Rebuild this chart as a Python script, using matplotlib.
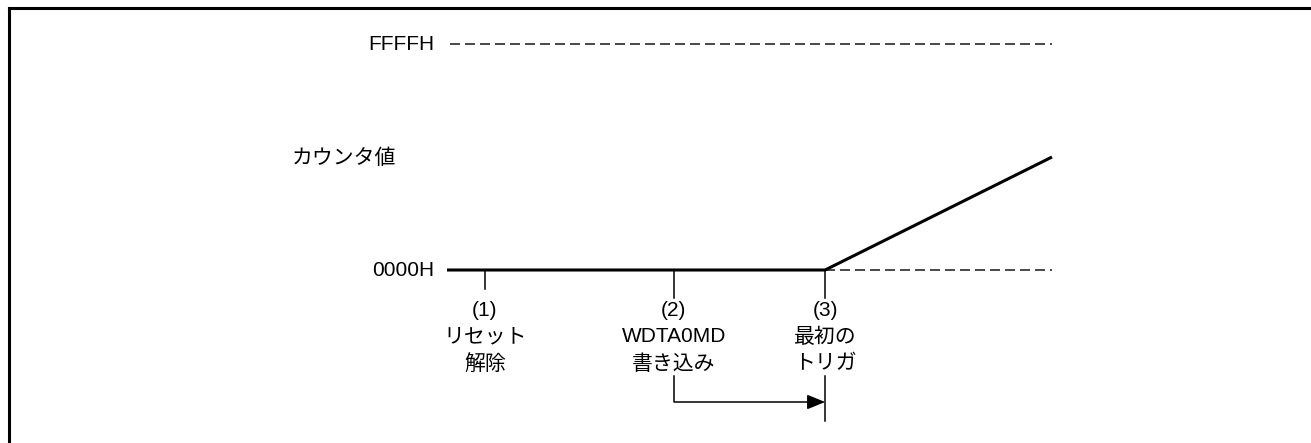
import matplotlib
matplotlib.use("Agg")
import matplotlib.pyplot as plt
from matplotlib.lines import Line2D

plt.rcParams['font.family'] = ['Liberation Sans', 'Noto Sans CJK JP', 'DejaVu Sans']
plt.rcParams['lines.scale_dashes'] = False

# ---- data (time in arbitrary units, counter value) ----
t_start, t_end = 0.0, 16.0
event_times = [1.0, 6.0, 10.0]               # (1) reset release, (2) WDTA0MD write, (3) first trigger
event_numbers = ["(1)", "(2)", "(3)"]
event_labels = [["リセット", "解除"], ["WDTA0MD", "書き込み"], ["最初の", "トリガ"]]
counter_min, counter_max = 0x0000, 0xFFFF
counter_end = 0x7FFF
level_labels = ["0000H", "FFFFH"]
y_label = "カウンタ値"
count_t = [t_start, event_times[2], t_end]
count_v = [counter_min, counter_min, counter_end]

W, H = 1311, 443
fig = plt.figure(figsize=(W / 100, H / 100), dpi=100)
# axes: x 0..16 -> px 447..1052 ; y 0..65535 -> px 270..44
x0, x1 = 447, 1052
y0, y1 = 270, 44
ax = fig.add_axes([x0 / W, (H - y0) / H, (x1 - x0) / W, (y0 - y1) / H])
ax.set_xlim(t_start, t_end)
ax.set_ylim(counter_min, counter_max)
ax.axis('off')

px_x = (t_end - t_start) / (x1 - x0)          # data units per pixel (x)
px_y = (counter_max - counter_min) / (y0 - y1)  # data units per pixel (y)

fs = 15
dash_col = '#3a3a3a'

# dashed reference lines
ax.plot([t_start + 3 * px_x, t_end], [counter_max, counter_max], color=dash_col, lw=1.3,
        dashes=(7.2, 3.6), clip_on=False)
ax.plot([event_times[2], t_end], [counter_min, counter_min], color=dash_col, lw=1.3,
        dashes=(7.2, 3.6), clip_on=False)

# counter curve
ax.plot(count_t, count_v, color='black', lw=2.2, clip_on=False, solid_capstyle='butt')

# level labels
for val, lab in zip([counter_min, counter_max], level_labels):
    ax.text(t_start - 13 * px_x, val, lab, ha='right', va='center', fontsize=fs)
ax.text(t_start - 155 * px_x, 0.493 * counter_max, y_label, ha='left', va='center', fontsize=fs)

# event ticks and labels
tick_len = [19, 28, 28]
for t, num, labs, tl in zip(event_times, event_numbers, event_labels, tick_len):
    ax.plot([t, t], [0, -tl * px_y], color='black', lw=1.1, clip_on=False)
    lines = [num] + labs
    for i, s in enumerate(lines):
        ax.text(t, -(40 + 27 * i) * px_y, s, ha='center', va='center', fontsize=fs)

# arrow from (2) to (3)
t2, t3 = event_times[1], event_times[2]
ax.plot([t2, t2, t3 - 14 * px_x], [-106 * px_y, -132 * px_y, -132 * px_y],
        color='black', lw=1.1, clip_on=False)
ax.annotate('', xy=(t3, -132 * px_y), xytext=(t3 - 16 * px_x, -132 * px_y),
            arrowprops=dict(arrowstyle='-|>,head_length=1.1,head_width=0.45',
                            color='black', lw=1.1, shrinkA=0, shrinkB=0),
            annotation_clip=False)
ax.plot([t3, t3], [-106 * px_y, -151 * px_y], color='black', lw=1.1, clip_on=False)

# frame (top and left edges)
fig.add_artist(Line2D([8.5 / W, 8.5 / W], [0, 1 - 7.5 / H], transform=fig.transFigure,
                      color='black', lw=2.2, solid_capstyle='projecting'))
fig.add_artist(Line2D([8.5 / W, 1], [1 - 7.5 / H, 1 - 7.5 / H], transform=fig.transFigure,
                      color='black', lw=2.2, solid_capstyle='projecting'))

fig.savefig('out.png', dpi=100)
